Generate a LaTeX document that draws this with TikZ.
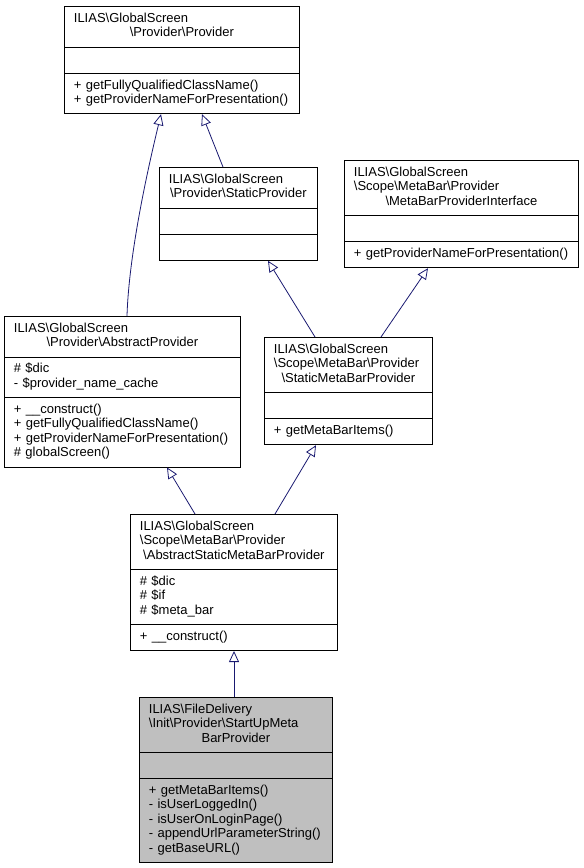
\documentclass[tikz,border=0pt]{standalone}
\usepackage{fontspec}
\setmainfont{Liberation Sans}
\usetikzlibrary{shapes.multipart,arrows.meta}
\setlength{\parindent}{0pt}
\definecolor{edgeblue}{RGB}{25,25,112}
\definecolor{nodegray}{RGB}{191,191,191}
\newcommand{\bs}{\textbackslash}
\newcommand{\lft}[1]{\makebox[\hsize][l]{\strut#1}}
\newcommand{\ctr}[1]{\makebox[\hsize][c]{\strut#1}}

\begin{document}
\begin{tikzpicture}[x=1pt,y=-1pt,
    cls/.style={rectangle split,rectangle split parts=3,draw=black,line width=0.8pt,fill=white,
      anchor=north west,inner xsep=9.5pt,inner ysep=5.5pt,align=left,font=\fontsize{13}{14.4}\selectfont},
    inh/.style={draw=edgeblue,line width=0.8pt,-{Triangle[open,length=11pt,width=10pt]}}]
   \useasboundingbox (0,0) rectangle (584,868);
   \node[cls,text width=216pt] (prov) at (64,6) {\lft{ILIAS\bs GlobalScreen}\\\ctr{\bs Provider\bs Provider}
      \nodepart{two}\lft{}
      \nodepart{three}\lft{+ getFullyQualifiedClassName()}\\\lft{+ getProviderNameForPresentation()}};
   \node[cls,text width=139pt] (stat) at (159,167) {\lft{ILIAS\bs GlobalScreen}\\\ctr{\bs Provider\bs StaticProvider}
      \nodepart{two}\lft{}
      \nodepart{three}\lft{}};
   \node[cls,text width=215pt] (mbpi) at (344,160) {\lft{ILIAS\bs GlobalScreen}\\\lft{\bs Scope\bs MetaBar\bs Provider}\\\ctr{\bs MetaBarProviderInterface}
      \nodepart{two}\lft{}
      \nodepart{three}\lft{+ getProviderNameForPresentation()}};
   \node[cls,text width=217pt] (abs) at (4,316) {\lft{ILIAS\bs GlobalScreen}\\\ctr{\bs Provider\bs AbstractProvider}
      \nodepart{two}\lft{\# \$dic}\\\lft{- \$provider\_name\_cache}
      \nodepart{three}\lft{+ \_\_construct()}\\\lft{+ getFullyQualifiedClassName()}\\\lft{+ getProviderNameForPresentation()}\\\lft{\# globalScreen()}};
   \node[cls,text width=149pt] (smb) at (264,337) {\lft{ILIAS\bs GlobalScreen}\\\lft{\bs Scope\bs MetaBar\bs Provider}\\\ctr{\bs StaticMetaBarProvider}
      \nodepart{two}\lft{}
      \nodepart{three}\lft{+ getMetaBarItems()}};
   \node[cls,text width=188pt] (asmb) at (130,514) {\lft{ILIAS\bs GlobalScreen}\\\lft{\bs Scope\bs MetaBar\bs Provider}\\\ctr{\bs AbstractStaticMetaBarProvider}
      \nodepart{two}\lft{\# \$dic}\\\lft{\# \$if}\\\lft{\# \$meta\_bar}
      \nodepart{three}\lft{+ \_\_construct()}};
   \node[cls,text width=174pt,fill=nodegray] (sump) at (139,697) {\lft{ILIAS\bs FileDelivery}\\\lft{\bs Init\bs Provider\bs StartUpMeta}\\\ctr{BarProvider}
      \nodepart{two}\lft{}
      \nodepart{three}\lft{+ getMetaBarItems()}\\\lft{- isUserLoggedIn()}\\\lft{- isUserOnLoginPage()}\\\lft{- appendUrlParameterString()}\\\lft{- getBaseURL()}};
   \draw[inh] ([xshift=123pt]abs.north west) .. controls (129,250) and (150,160) .. ([xshift=97pt]prov.south west);
   \draw[inh] ([xshift=64pt]stat.north west) -- ([xshift=138pt]prov.south west);
   \draw[inh] ([xshift=51pt]smb.north west) -- ([xshift=109pt]stat.south west);
   \draw[inh] ([xshift=117pt]smb.north west) -- ([xshift=84pt]mbpi.south west);
   \draw[inh] ([xshift=65pt]asmb.north west) -- ([xshift=163pt]abs.south west);
   \draw[inh] ([xshift=145pt]asmb.north west) -- ([xshift=52pt]smb.south west);
   \draw[inh] ([xshift=95pt]sump.north west) -- ([xshift=104pt]asmb.south west);
\end{tikzpicture}
\end{document}
